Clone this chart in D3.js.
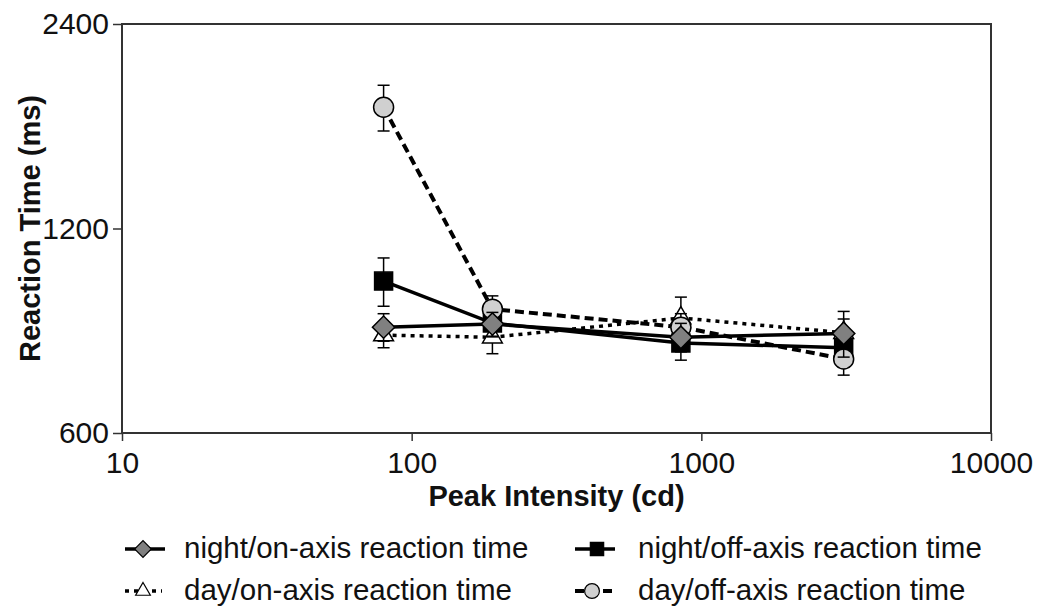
<!DOCTYPE html>
<html>
<head>
<meta charset="utf-8">
<script src="https://cdn.jsdelivr.net/npm/d3@7"></script>
<style>
  html, body { margin: 0; padding: 0; background: #fff; }
  svg { display: block; font-family: "Liberation Sans", Arial, sans-serif; }
</style>
</head>
<body>
<svg id="chart" width="1048" height="614"></svg>
<script>
// Peak intensity (cd) for each test condition
const intensity = [80, 190, 850, 3100];

// Mean reaction times (ms) and error-bar half widths
const nightOn = [859, 868, 830, 841];
const nightOnErr = [40, 35, 40, 65];
const nightOff = [1004, 871, 814, 801];
const nightOffErr = [82, 40, 46, 40];
const dayOn = [836, 830, 886, 843];
const dayOnErr = [35, 45, 65, 40];
const dayOff = [1810, 913, 859, 771];
const dayOffErr = [140, 42, 40, 41];

const xTicks = [10, 100, 1000, 10000];
const yTicks = [600, 1200, 2400];

const svg = d3.select("#chart");
const plotLeft = 122, plotRight = 991, plotTop = 24, plotBottom = 433;

const x = d3.scaleLog().domain([10, 10000]).range([plotLeft, plotRight]);
const y = d3.scaleLog().domain([600, 2400]).range([plotBottom, plotTop]);

// series drawn back to front
const series = [
  { name: "day/on-axis reaction time", values: dayOn, err: dayOnErr,
    symbol: d3.symbolTriangle, size: 170, rotate: 0, fill: "#fff", dash: "4,5", width: 3.5 },
  { name: "night/off-axis reaction time", values: nightOff, err: nightOffErr,
    symbol: d3.symbolSquare, size: 324, rotate: 0, fill: "#000", dash: null, width: 3.5 },
  { name: "day/off-axis reaction time", values: dayOff, err: dayOffErr,
    symbol: d3.symbolCircle, size: 314, rotate: 0, fill: "#d0d0d0", dash: "9,5", width: 4 },
  { name: "night/on-axis reaction time", values: nightOn, err: nightOnErr,
    symbol: d3.symbolSquare, size: 250, rotate: 45, fill: "#808080", dash: null, width: 3.5 }
];

// frame
svg.append("rect")
  .attr("x", plotLeft).attr("y", plotTop)
  .attr("width", plotRight - plotLeft).attr("height", plotBottom - plotTop)
  .attr("fill", "none").attr("stroke", "#333").attr("stroke-width", 2);

// axes
const xAxis = svg.append("g")
  .attr("transform", `translate(0,${plotBottom})`)
  .call(d3.axisBottom(x).tickValues(xTicks).tickFormat(d3.format("d")).tickSize(8).tickPadding(11));
const yAxis = svg.append("g")
  .attr("transform", `translate(${plotLeft},0)`)
  .call(d3.axisLeft(y).tickValues(yTicks).tickFormat(d3.format("d")).tickSize(9).tickPadding(4));

[xAxis, yAxis].forEach((axis) => {
  axis.select(".domain").remove();
  axis.selectAll(".tick line").attr("stroke", "#333").attr("stroke-width", 1.5);
  axis.selectAll(".tick text")
    .attr("fill", "#111")
    .style("font-size", "30px")
    .style("font-family", "\"Liberation Sans\", Arial, sans-serif");
});

// axis titles
svg.append("text")
  .attr("x", (plotLeft + plotRight) / 2).attr("y", 506)
  .attr("text-anchor", "middle")
  .style("font-size", "29px").style("font-weight", "bold")
  .attr("fill", "#111")
  .text("Peak Intensity (cd)");

svg.append("text")
  .attr("transform", `translate(40,${(plotTop + plotBottom) / 2}) rotate(-90)`)
  .attr("text-anchor", "middle")
  .style("font-size", "29px").style("font-weight", "bold")
  .attr("fill", "#111")
  .text("Reaction Time (ms)");

const line = d3.line()
  .x((d) => x(d[0]))
  .y((d) => y(d[1]));

// lines first
series.forEach((s) => {
  svg.append("path")
    .datum(intensity.map((v, i) => [v, s.values[i]]))
    .attr("d", line)
    .attr("fill", "none")
    .attr("stroke", "#000")
    .attr("stroke-width", s.width)
    .attr("stroke-dasharray", s.dash);
});

// error bars and markers
series.forEach((s) => {
  const g = svg.append("g");
  intensity.forEach((v, i) => {
    const cx = x(v);
    const y0 = y(s.values[i] - s.err[i]);
    const y1 = y(s.values[i] + s.err[i]);
    g.append("line")
      .attr("x1", cx).attr("x2", cx).attr("y1", y0).attr("y2", y1)
      .attr("stroke", "#000").attr("stroke-width", 1.5);
    [y0, y1].forEach((yy) => {
      g.append("line")
        .attr("x1", cx - 6).attr("x2", cx + 6).attr("y1", yy).attr("y2", yy)
        .attr("stroke", "#000").attr("stroke-width", 1.5);
    });
  });
  g.selectAll("path.marker")
    .data(intensity.map((v, i) => [v, s.values[i]]))
    .join("path")
    .attr("class", "marker")
    .attr("d", d3.symbol().type(s.symbol).size(s.size))
    .attr("transform", (d) => `translate(${x(d[0])},${y(d[1])}) rotate(${s.rotate})`)
    .attr("fill", s.fill)
    .attr("stroke", "#000")
    .attr("stroke-width", 1.5);
});

// legend
const legendItems = [
  { s: series[3], x0: 125, x1: 165, mx: 143, row: 0, tx: 184 },
  { s: series[1], x0: 575, x1: 615, mx: 597, row: 0, tx: 638 },
  { s: series[0], x0: 125, x1: 162, mx: 143, row: 1, tx: 184 },
  { s: series[2], x0: 575, x1: 612, mx: 592, row: 1, tx: 638 }
];
const rowY = [549, 591];
const legendScale = 0.55;

legendItems.forEach((item) => {
  const ly = rowY[item.row];
  const g = svg.append("g");
  g.append("line")
    .attr("x1", item.x0).attr("x2", item.x1).attr("y1", ly).attr("y2", ly)
    .attr("stroke", "#000")
    .attr("stroke-width", item.s.width)
    .attr("stroke-dasharray", item.s.dash);
  g.append("path")
    .attr("d", d3.symbol().type(item.s.symbol).size(item.s.size * legendScale))
    .attr("transform", `translate(${item.mx},${ly}) rotate(${item.s.rotate})`)
    .attr("fill", item.s.fill)
    .attr("stroke", "#000")
    .attr("stroke-width", 1.2);
  g.append("text")
    .attr("x", item.tx).attr("y", ly + 9)
    .style("font-size", "29.5px")
    .attr("fill", "#111")
    .text(item.s.name);
});
</script>
</body>
</html>
